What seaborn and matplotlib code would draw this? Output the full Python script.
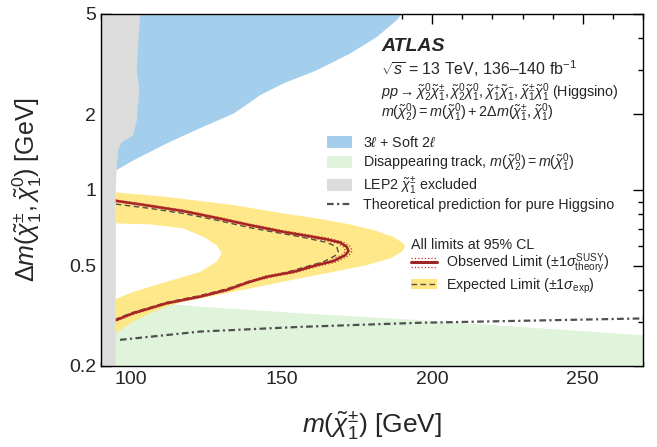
import numpy as np
import pandas as pd
import seaborn as sns
import matplotlib
matplotlib.use("Agg")
import matplotlib.pyplot as plt
from matplotlib.patches import Patch
from matplotlib.lines import Line2D
from matplotlib.legend_handler import HandlerBase, HandlerTuple
from matplotlib.ticker import FixedLocator, NullFormatter

sns.set_theme(style="ticks")
plt.rcParams['font.family'] = ['Liberation Sans', 'DejaVu Sans']
plt.rcParams['mathtext.fontset'] = 'custom'
plt.rcParams['mathtext.rm'] = 'Liberation Sans'
plt.rcParams['mathtext.it'] = 'Liberation Sans:italic'
plt.rcParams['mathtext.bf'] = 'Liberation Sans:bold'

# LEP2 chargino exclusion (right edge, bottom to top)
lep_x = [94.9, 94.9, 95.2, 95.7, 96.9, 100.7, 101.9, 102.7, 101.9, 102.4, 103.0]
lep_y = [0.2, 1.0, 1.2, 1.44, 1.55, 1.65, 1.89, 2.49, 2.99, 3.82, 5.0]

# 3l + soft 2l, lower edge
soft_x = [95.2, 100.7, 111.8, 122.9, 134.0, 139.5, 142.8, 150.6, 161.7, 172.7, 181.6, 188.2, 189.9]
soft_y = [1.20, 1.31, 1.53, 1.76, 2.01, 2.23, 2.38, 2.65, 2.99, 3.48, 4.05, 4.72, 5.0]

# disappearing track, upper edge
dt_x = [94.9, 122.9, 156.1, 196.0, 270.0]
dt_y = [0.369, 0.344, 0.324, 0.304, 0.265]

# expected +-1 sigma band: outer edge (upper then lower), inner edge (lower then upper)
band_out_x = [94.9, 111.8, 134.0, 150.6, 161.7, 172.7, 180.5, 187.1, 190.4, 191.0,
              189.9, 186.0, 178.3, 167.2, 156.1, 145.0, 134.0, 122.9, 117.3, 111.8, 106.3, 100.7, 94.9]
band_out_y = [0.978, 0.939, 0.871, 0.807, 0.771, 0.730, 0.693, 0.652, 0.614, 0.595,
              0.568, 0.535, 0.503, 0.473, 0.446, 0.419, 0.394, 0.371, 0.360, 0.344, 0.324, 0.300, 0.270]
band_in_x = [94.9, 100.7, 111.8, 122.9, 128.4, 130.1, 128.4, 124.0, 117.3, 106.3, 94.9]
band_in_y = [0.369, 0.394, 0.432, 0.473, 0.519, 0.560, 0.604, 0.652, 0.704, 0.730, 0.737]

# observed limit and its theory variations
obs_x = [94.9, 106.3, 117.3, 128.4, 139.5, 150.6, 158.3, 165.0, 169.4, 171.6, 172.2, 171.1,
         167.2, 161.7, 153.9, 145.0, 139.5, 131.8, 122.9, 111.8, 106.3, 100.7, 94.9]
obs_y = [0.906, 0.865, 0.825, 0.775, 0.725, 0.682, 0.658, 0.637, 0.619, 0.595, 0.572, 0.551,
         0.522, 0.503, 0.473, 0.452, 0.432, 0.401, 0.377, 0.355, 0.339, 0.324, 0.304]
obs_up_x = [94.9, 106.3, 117.3, 128.4, 139.5, 150.6, 158.6, 165.6, 170.3, 172.8, 173.4, 172.3,
            168.2, 162.3, 154.3, 145.3, 139.5, 131.8, 122.9, 111.8, 106.3, 100.7, 94.9]
obs_up_y = [0.913, 0.872, 0.832, 0.782, 0.732, 0.689, 0.665, 0.643, 0.623, 0.597, 0.572, 0.549,
            0.518, 0.499, 0.469, 0.448, 0.428, 0.397, 0.374, 0.352, 0.336, 0.321, 0.301]
obs_dn_x = [94.9, 106.3, 117.3, 128.4, 139.5, 150.6, 158.0, 164.4, 168.6, 170.6, 171.2, 170.1,
            166.3, 161.1, 153.5, 144.7, 139.5, 131.8, 122.9, 111.8, 106.3, 100.7, 94.9]
obs_dn_y = [0.899, 0.858, 0.818, 0.768, 0.718, 0.675, 0.651, 0.631, 0.614, 0.593, 0.572, 0.553,
            0.526, 0.507, 0.477, 0.456, 0.436, 0.405, 0.380, 0.358, 0.342, 0.327, 0.307]

# expected limit
exp_x = [94.9, 106.3, 117.3, 128.4, 139.5, 156.1, 165.0, 168.3, 168.8, 167.7, 163.9, 156.1,
         145.0, 139.5, 131.8, 122.9, 111.8, 106.3, 100.7, 94.9]
exp_y = [0.879, 0.845, 0.807, 0.759, 0.708, 0.652, 0.619, 0.595, 0.568, 0.548, 0.519, 0.488,
         0.448, 0.436, 0.405, 0.381, 0.358, 0.342, 0.327, 0.307]

# pure higgsino prediction
th_x = [96.3, 122.9, 156.1, 196.0, 270.0]
th_y = [0.254, 0.274, 0.286, 0.297, 0.309]

c_blue = "#a3cfec"
c_green = "#e0f3db"
c_gray = "#dcdcdc"
c_yellow = "#ffe680"
c_obs = "#9e2424"
c_obs_th = "#c8302c"
c_line = "#505050"
dashdot = (0, (3, 1.5, 1, 1.5))
dashed = (0, (4, 2.5))

fig = plt.figure(figsize=(6.57, 4.47), dpi=100)
ax = fig.add_axes([101/657, 1-366/447, 542/657, 352/447])
ax.set_yscale("log")
ax.set_xlim(90, 270)
ax.set_ylim(0.2, 5)

ax.fill(soft_x + [90, 90], soft_y + [5, 1.2], color=c_blue, lw=0, zorder=1)
ax.fill(dt_x + [270, 94.9], dt_y + [0.2, 0.2], color=c_green, lw=0, zorder=1)
ax.fill(band_out_x + band_in_x, band_out_y + band_in_y, color=c_yellow, lw=0, alpha=0.92, zorder=2)
ax.fill(lep_x + [90, 90], lep_y + [5, 0.2], color=c_gray, lw=0, zorder=6)

obs = pd.DataFrame({"x": obs_x, "y": obs_y})
sns.lineplot(data=obs, x="x", y="y", sort=False, estimator=None, color=c_obs, lw=1.8,
             solid_joinstyle="round", ax=ax, zorder=4)
sns.lineplot(x=obs_up_x, y=obs_up_y, sort=False, estimator=None, color=c_obs_th, lw=0.9, ls=":", ax=ax, zorder=4)
sns.lineplot(x=obs_dn_x, y=obs_dn_y, sort=False, estimator=None, color=c_obs_th, lw=0.9, ls=":", ax=ax, zorder=4)
sns.lineplot(x=exp_x, y=exp_y, sort=False, estimator=None, color=c_line, lw=1.0, ls=dashed, ax=ax, zorder=3)
sns.lineplot(x=th_x, y=th_y, sort=False, estimator=None, color=c_line, lw=1.6, ls=dashdot, ax=ax, zorder=3)

ax.set_xlabel(r"$m(\tilde{\chi}^{\pm}_{1})$ [GeV]", fontsize=19, labelpad=15)
ax.set_ylabel(r"$\Delta m(\tilde{\chi}^{\pm}_{1},\tilde{\chi}^{0}_{1})$ [GeV]", fontsize=18, labelpad=18)

ax.xaxis.set_major_locator(FixedLocator([100, 150, 200, 250]))
ax.xaxis.set_minor_locator(FixedLocator(list(range(90, 271, 10))))
ax.yaxis.set_major_locator(FixedLocator([0.2, 0.5, 1, 2, 5]))
ax.yaxis.set_minor_locator(FixedLocator([0.3, 0.4, 0.6, 0.7, 0.8, 0.9, 3, 4]))
ax.yaxis.set_minor_formatter(NullFormatter())
ax.set_yticklabels(["0.2", "0.5", "1", "2", "5"])
ax.tick_params(which="both", direction="in", top=True, right=True, labelsize=14, color="black", width=1)
ax.tick_params(which="major", length=7)
ax.tick_params(which="minor", length=3.5)
for s in ax.spines.values():
    s.set_visible(True)
    s.set_color("black")
    s.set_linewidth(1)
    s.set_zorder(10)

fig.text(381/657, 1-51/447, "ATLAS", fontsize=14, fontweight="bold", fontstyle="italic", va="baseline")
fig.text(381/657, 1-75/447, r"$\sqrt{s}$ = 13 TeV, 136–140 fb$^{-1}$", fontsize=11.5, va="baseline")
fig.text(381/657, 1-96.5/447,
         r"$pp \rightarrow \tilde{\chi}^{0}_{2}\tilde{\chi}^{\pm}_{1}, \tilde{\chi}^{0}_{2}\tilde{\chi}^{0}_{1}, "
         r"\tilde{\chi}^{+}_{1}\tilde{\chi}^{-}_{1}, \tilde{\chi}^{\pm}_{1}\tilde{\chi}^{0}_{1}$ (Higgsino)",
         fontsize=10.4, va="baseline")
fig.text(381/657, 1-117/447,
         r"$m(\tilde{\chi}^{0}_{2}) = m(\tilde{\chi}^{0}_{1}) + 2\Delta m(\tilde{\chi}^{\pm}_{1},\tilde{\chi}^{0}_{1})$",
         fontsize=10.4, va="baseline")


class ObsHandler(HandlerBase):
    def create_artists(self, legend, orig_handle, xdescent, ydescent, width, height, fontsize, trans):
        arts = []
        for frac, ls, lw, c in [(0.95, ":", 0.9, c_obs_th), (0.5, "-", 2.2, c_obs), (0.05, ":", 0.9, c_obs_th)]:
            yy = -ydescent + height * frac
            arts.append(Line2D([-xdescent, -xdescent + width], [yy, yy], ls=ls, lw=lw, color=c, transform=trans))
        return arts


h1 = [Patch(color=c_blue, lw=0), Patch(color=c_green, lw=0), Patch(color=c_gray, lw=0),
      Line2D([], [], color=c_line, lw=1.6, ls=dashdot)]
l1 = [r"3$\ell$ + Soft 2$\ell$",
      r"Disappearing track, $m(\tilde{\chi}^{0}_{2}) = m(\tilde{\chi}^{0}_{1})$",
      r"LEP2 $\tilde{\chi}^{\pm}_{1}$ excluded",
      "Theoretical prediction for pure Higgsino"]
leg1 = ax.legend(h1, l1, loc="upper left", bbox_to_anchor=(327/657, 1-135/447), bbox_transform=fig.transFigure,
                 frameon=False, fontsize=10.3, handlelength=1.75, handleheight=0.9, handletextpad=0.8,
                 labelspacing=0.1, borderpad=0, borderaxespad=0)
leg1.set_zorder(12)
ax.add_artist(leg1)

obs_handle = Line2D([], [], color=c_obs)
exp_handle = (Patch(color=c_yellow, lw=0), Line2D([], [], color=c_line, lw=1.0, ls=dashed))
leg2 = ax.legend([obs_handle, exp_handle],
                 [r"Observed Limit ($\pm1\sigma^{\mathrm{SUSY}}_{\mathrm{theory}}$)",
                  r"Expected Limit ($\pm1\sigma_{\mathrm{exp}}$)"],
                 handler_map={obs_handle: ObsHandler(), tuple: HandlerTuple(ndivide=1)},
                 title="All limits at 95% CL", title_fontsize=10.3, alignment="left",
                 loc="upper left", bbox_to_anchor=(411/657, 1-238/447), bbox_transform=fig.transFigure,
                 frameon=False, fontsize=10.3, handlelength=1.85, handleheight=0.7, handletextpad=0.6,
                 labelspacing=0.0, borderpad=0, borderaxespad=0)
leg2.set_zorder(12)

fig.savefig("out.png", dpi=100)
